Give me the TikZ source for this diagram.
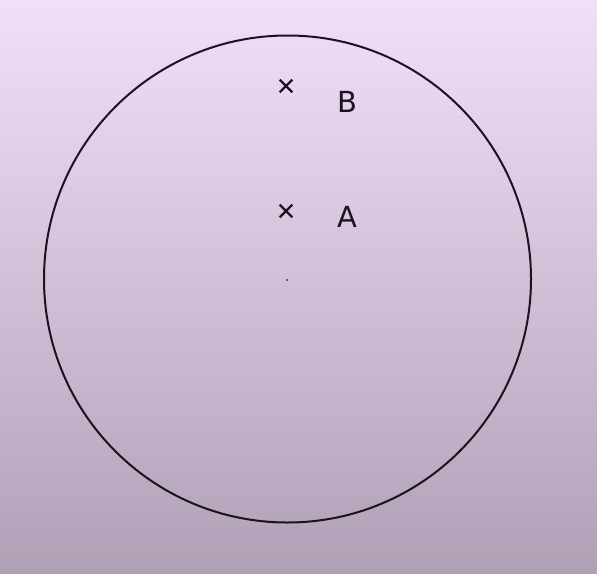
\documentclass[tikz,border=0pt]{standalone}
\usepackage{fontspec}
\setmainfont{DejaVu Sans}
\usetikzlibrary{shapes.misc}
\definecolor{bgtop}{HTML}{F2DEF9}
\definecolor{bgbot}{HTML}{B0A0B6}
\definecolor{ink}{HTML}{1A141C}
\begin{document}
\begin{tikzpicture}[x=1pt,y=-1pt,
  cross/.style={draw=ink,line width=2.2pt,cross out,minimum size=10.5pt,inner sep=0pt},
  lbl/.style={text=ink,font=\fontsize{29}{31}\selectfont,inner sep=0pt}]
\shade[top color=bgtop,bottom color=bgbot] (0,0) rectangle (597,573);
\useasboundingbox (0,0) rectangle (597,573);
\node[draw=ink,line width=2pt,circle,minimum size=487pt,inner sep=0pt] (circ) at (287.5,279) {};
\node[cross] (B) at (286,86) {};
\node[cross] (A) at (286,211) {};
\node[lbl] (lB) at (347,102) {B};
\node[lbl] (lA) at (347,217) {A};
\node[fill=ink!70,minimum width=2pt,minimum height=1.5pt,inner sep=0pt] (c) at (287,280) {};
\end{tikzpicture}
\end{document}
